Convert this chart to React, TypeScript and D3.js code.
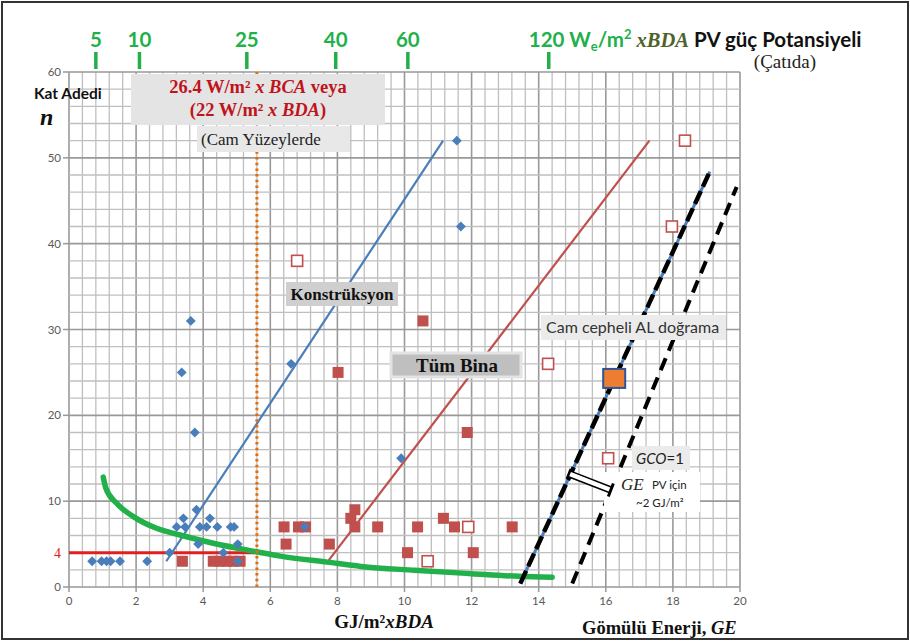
import React from "react";
import * as d3 from "d3";

const W = 910;
const H = 641;
const margin = { left: 69, right: 170, top: 72, bottom: 54 };

// Konstrüksyon (blue diamonds)
const konstruksyon: [number, number][] = [
  [0.69, 3], [0.97, 3], [1.12, 3], [1.24, 3], [1.52, 3], [2.33, 3],
  [3.0, 4], [4.6, 4], [5.03, 3], [3.85, 5], [5.03, 5],
  [3.21, 7], [3.46, 7], [3.9, 7], [4.1, 7], [4.42, 7], [4.82, 7], [4.92, 7], [7.02, 7],
  [3.41, 8], [4.2, 8], [3.8, 9],
  [9.9, 15], [3.75, 18], [3.36, 25], [6.62, 26], [3.63, 31], [11.68, 42], [11.56, 52],
];

// Tüm Bina (red filled squares)
const tumBina: [number, number][] = [
  [3.38, 3], [4.3, 3], [4.5, 3], [4.7, 3], [4.9, 3], [5.1, 3],
  [10.09, 4], [12.05, 4],
  [6.47, 5], [7.76, 5],
  [6.41, 7], [6.84, 7], [7.05, 7], [8.52, 7], [9.2, 7], [10.39, 7], [11.49, 7], [13.21, 7],
  [8.4, 8], [11.16, 8], [8.52, 9],
  [11.87, 18], [8.02, 25], [10.55, 31],
];

// open red squares
const tumBinaOpen: [number, number][] = [
  [10.69, 3], [11.9, 7], [16.07, 15], [14.28, 26], [6.8, 38], [17.97, 42], [18.36, 52],
];

const camCepheli: [number, number][] = [[16.25, 24.3]];

const konstTrend: [number, number][] = [[2.9, 3], [11.15, 52]];
const tumTrend: [number, number][] = [[7.7, 2.9], [17.3, 52]];
const gcoLine: [number, number][] = [[13.45, 0.4], [19.1, 48.4]];
const pvLine: [number, number][] = [[15.0, 0.4], [19.9, 46.6]];
const kat4Line: [number, number][] = [[0, 4], [5.6, 4]];
const camLimit = 5.6;

const pvCurve: [number, number][] = [
  [1.02, 12.8], [1.1, 11.5], [1.42, 9.75], [1.92, 8.2], [2.61, 6.84], [3.31, 6.06],
  [4.3, 5.1], [5.6, 4.1], [6.3, 3.6], [7.7, 2.9], [8.7, 2.4], [10.3, 1.95], [12, 1.55],
  [13.4, 1.25], [14.4, 1.15],
];

const pvTickLabels = ["5", "10", "25", "40", "60", "120"];
const pvTickPos = [0.8, 2.1, 5.3, 7.95, 10.1, 14.3];

const xTicks = d3.range(0, 21, 2);
const yTicks = d3.range(0, 61, 10);

const SANS = "Lato, 'Liberation Sans', sans-serif";
const SERIF = "'Liberation Serif', 'DejaVu Serif', serif";
const BLUE = "#4a7ebb";
const RED = "#c0504d";
const GREEN = "#22b04b";

export default function App() {
  const x = d3.scaleLinear().domain([0, 20]).range([margin.left, W - margin.right]);
  const y = d3.scaleLinear().domain([0, 60]).range([H - margin.bottom, margin.top]);
  const line = d3.line<[number, number]>().x((d) => x(d[0])).y((d) => y(d[1]));
  const curve = d3
    .line<[number, number]>()
    .x((d) => x(d[0]))
    .y((d) => y(d[1]))
    .curve(d3.curveMonotoneX);

  const vMinor = d3.range(0, 20.001, 0.4);
  const hMinor = d3.range(0, 60.001, 2);

  // hollow arrow between the two dashed lines
  const a0 = [x(14.9), y(13.2)];
  const a1 = [x(16.15), y(11.3)];
  const ang = Math.atan2(a1[1] - a0[1], a1[0] - a0[0]);
  const len = Math.hypot(a1[0] - a0[0], a1[1] - a0[1]);
  const sw = 3;
  const rot = ([u, v]: number[]) => [
    a0[0] + u * Math.cos(ang) - v * Math.sin(ang),
    a0[1] + u * Math.sin(ang) + v * Math.cos(ang),
  ];
  const arrowPts = [[0, -sw], [len, -sw], [len, sw], [0, sw]]
    .map(rot)
    .map((p) => p.join(","))
    .join(" ");
  const tipBar = [rot([len, -7]), rot([len, 7])];
  const backBar = [rot([0, -5]), rot([0, 5])];

  const diamond = d3.symbol(d3.symbolDiamond2, 62)();

  return (
    <svg
      width={W}
      height={H}
      style={{ position: "absolute", left: 0, top: 0, background: "#fff" }}
    >
      <rect x={2} y={2} width={W - 4} height={H - 4} fill="#fff" stroke="#333" strokeWidth={2} />

      {/* grid */}
      {vMinor.map((v, i) => (
        <line
          key={"v" + i}
          x1={x(v)} x2={x(v)} y1={y(0)} y2={y(60)}
          stroke={i % 5 === 0 ? "#999" : "#bfbfbf"}
          strokeWidth={i % 5 === 0 ? 1.6 : 1.3}
        />
      ))}
      {hMinor.map((v, i) => (
        <line
          key={"h" + i}
          x1={x(0)} x2={x(20)} y1={y(v)} y2={y(v)}
          stroke={i % 5 === 0 ? "#999" : "#bfbfbf"}
          strokeWidth={i % 5 === 0 ? 1.6 : 1.3}
        />
      ))}

      {/* axes ticks */}
      {yTicks.map((t) => (
        <g key={"yt" + t}>
          <line x1={x(0) - 6} x2={x(0)} y1={y(t)} y2={y(t)} stroke="#999" strokeWidth={1.5} />
          <text x={x(0) - 8} y={y(t) + 4} textAnchor="end" fontFamily={SANS} fontSize={11.5} fill="#595959">
            {t}
          </text>
        </g>
      ))}
      {xTicks.map((t) => (
        <g key={"xt" + t}>
          <line x1={x(t)} x2={x(t)} y1={y(0)} y2={y(0) + 5} stroke="#999" strokeWidth={1.5} />
          <text x={x(t)} y={y(0) + 18} textAnchor="middle" fontFamily={SANS} fontSize={11.5} fill="#595959">
            {t}
          </text>
        </g>
      ))}
      <text x={x(0) - 8} y={y(4) + 5} textAnchor="end" fontFamily={SERIF} fontSize={14} fill="#e02020">
        4
      </text>

      {/* PV potential top axis */}
      {pvTickPos.map((p, i) => (
        <g key={"pv" + i}>
          <line x1={x(p)} x2={x(p)} y1={52} y2={69} stroke={GREEN} strokeWidth={3.5} />
          {i < pvTickLabels.length - 1 && (
            <text x={x(p)} y={47} textAnchor="middle" fontFamily={SANS} fontWeight="bold" fontSize={20.5} fill={GREEN}>
              {pvTickLabels[i]}
            </text>
          )}
        </g>
      ))}
      <text x={x(pvTickPos[5]) - 20} y={47} fontFamily={SANS} fontWeight="bold" fontSize={20.5} fill={GREEN}>
        {pvTickLabels[5]} W
        <tspan fontSize={13} dy={4}>e</tspan>
        <tspan dy={-4}>/m</tspan>
        <tspan fontSize={13} dy={-8}>2</tspan>
        <tspan dy={8} fontFamily={SERIF} fontStyle="italic" fill="#4f6228"> xBDA</tspan>
        <tspan fill="#111"> PV güç Potansiyeli</tspan>
      </text>
      <text x={785} y={68} textAnchor="middle" fontFamily={SERIF} fontSize={19} fill="#222">
        (Çatıda)
      </text>

      {/* curves and lines */}
      <path d={line(kat4Line) || ""} stroke="#e02020" strokeWidth={3} fill="none" />
      <path d={line(konstTrend) || ""} stroke={BLUE} strokeWidth={2.2} fill="none" />
      <path d={line(tumTrend) || ""} stroke={RED} strokeWidth={2.2} fill="none" />
      <path d={curve(pvCurve) || ""} stroke={GREEN} strokeWidth={5.5} fill="none" strokeLinecap="round" />
      <line
        x1={x(camLimit)} x2={x(camLimit)} y1={y(0)} y2={y(60)}
        stroke="#e46c0a" strokeWidth={3} strokeDasharray="2.5 3.2"
      />
      <path d={line(gcoLine) || ""} stroke={BLUE} strokeWidth={3} fill="none" />
      <path d={line(gcoLine) || ""} stroke="#000" strokeWidth={4.5} strokeDasharray="14 5" fill="none" />
      <path d={line(pvLine) || ""} stroke="#000" strokeWidth={4} strokeDasharray="13 8" fill="none" />

      {/* markers */}
      {tumBina.map((d, i) => (
        <rect key={"tb" + i} x={x(d[0]) - 5.5} y={y(d[1]) - 5.5} width={11} height={11} fill={RED} />
      ))}
      {tumBinaOpen.map((d, i) => (
        <rect
          key={"to" + i} x={x(d[0]) - 5.5} y={y(d[1]) - 5.5} width={11} height={11}
          fill="#fff" stroke={RED} strokeWidth={1.6}
        />
      ))}
      {konstruksyon.map((d, i) => (
        <path key={"k" + i} d={diamond || ""} transform={`translate(${x(d[0])},${y(d[1])})`} fill={BLUE} />
      ))}
      {camCepheli.map((d, i) => (
        <rect
          key={"cc" + i} x={x(d[0]) - 11} y={y(d[1]) - 9.5} width={22} height={19}
          fill="#ed7d31" stroke="#2f5597" strokeWidth={2}
        />
      ))}

      {/* annotations */}
      <rect x={131} y={74} width={254} height={51} fill="#e4e4e4" />
      <text x={258} y={93} textAnchor="middle" fontFamily={SERIF} fontWeight="bold" fontSize={18.5} fill="#c0141c">
        26.4 W/m² <tspan fontStyle="italic">x BCA</tspan> veya
      </text>
      <text x={258} y={116} textAnchor="middle" fontFamily={SERIF} fontWeight="bold" fontSize={18.5} fill="#c0141c">
        (22 W/m² <tspan fontStyle="italic">x BDA</tspan>)
      </text>
      <rect x={197} y={126} width={153} height={26} fill="#e8e8e8" />
      <text x={201} y={145} fontFamily={SERIF} fontSize={17} fill="#222">
        (Cam Yüzeylerde
      </text>

      <rect x={286} y={282} width={112} height={24} fill="#cfcfcf" />
      <text x={342} y={300} textAnchor="middle" fontFamily={SERIF} fontWeight="bold" fontSize={17} fill="#111">
        Konstrüksyon
      </text>

      <rect x={391} y={353} width={130} height={24} fill="#bfbfbf" stroke="#e3e3e3" strokeWidth={3} />
      <text x={457} y={372} textAnchor="middle" fontFamily={SERIF} fontWeight="bold" fontSize={19} fill="#111">
        Tüm Bina
      </text>

      <rect x={541} y={315} width={185} height={25} fill="#ebebeb" />
      <text x={546} y={333} fontFamily={SANS} fontSize={16} fill="#333">
        Cam cepheli AL doğrama
      </text>

      <rect x={632} y={446} width={58} height={24} fill="#ebebeb" />
      <text x={636} y={464} fontFamily={SANS} fontSize={15} fill="#222">
        <tspan fontStyle="italic">GCO</tspan>=1
      </text>

      <rect x={604} y={472} width={96} height={40} fill="#fff" />
      <text x={621} y={490} fontFamily={SERIF} fontStyle="italic" fontSize={17} fill="#222">
        GE
      </text>
      <text x={652} y={489} fontFamily={SANS} fontSize={11.5} fill="#222">
        PV için
      </text>
      <text x={636} y={507} fontFamily={SANS} fontSize={11.5} fill="#222">
        ~2 GJ/m²
      </text>

      {/* hollow arrow */}
      <polygon points={arrowPts} fill="#fff" stroke="#000" strokeWidth={1.5} />
      <line x1={tipBar[0][0]} y1={tipBar[0][1]} x2={tipBar[1][0]} y2={tipBar[1][1]} stroke="#000" strokeWidth={3} />
      <line x1={backBar[0][0]} y1={backBar[0][1]} x2={backBar[1][0]} y2={backBar[1][1]} stroke="#000" strokeWidth={2.5} />

      {/* axis titles */}
      <text x={34} y={99} fontFamily={SANS} fontWeight="bold" fontSize={15.5} fill="#111">
        Kat Adedi
      </text>
      <text x={40} y={125} fontFamily={SERIF} fontWeight="bold" fontStyle="italic" fontSize={24} fill="#111">
        n
      </text>
      <text x={384} y={628} textAnchor="middle" fontFamily={SERIF} fontWeight="bold" fontSize={19} fill="#111">
        GJ/m²<tspan fontStyle="italic">xBDA</tspan>
      </text>
      <text x={582} y={634} fontFamily={SERIF} fontWeight="bold" fontSize={18.5} fill="#111">
        Gömülü Enerji, <tspan fontStyle="italic">GE</tspan>
      </text>
    </svg>
  );
}
